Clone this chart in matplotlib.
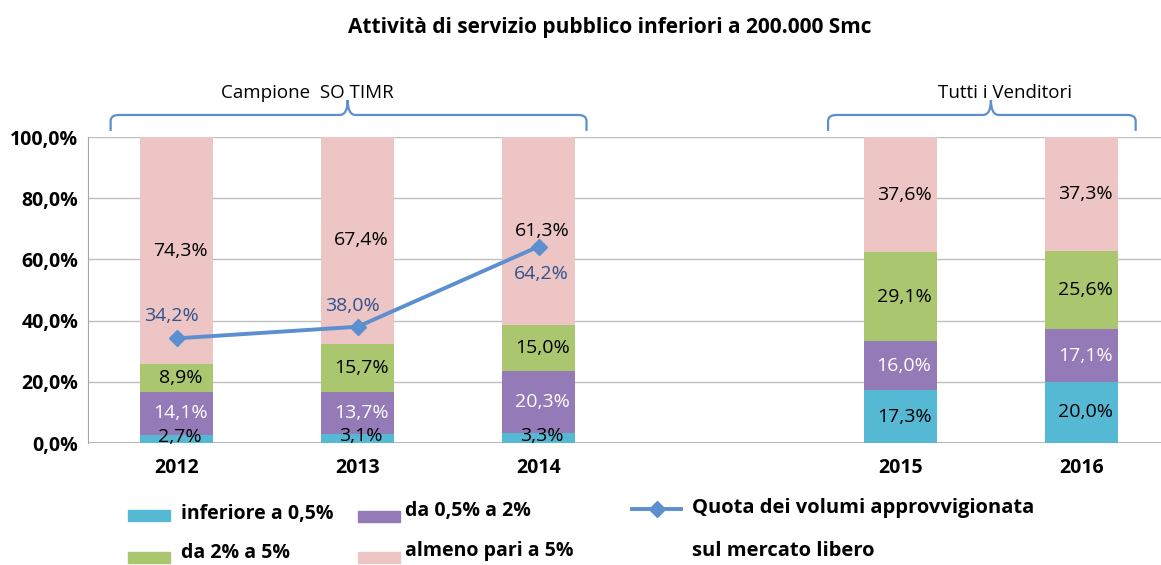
import matplotlib.pyplot as plt
import numpy as np
from matplotlib.path import Path
from matplotlib.patches import PathPatch, Rectangle
from matplotlib.lines import Line2D

plt.rcParams['font.family'] = ['Open Sans', 'DejaVu Sans']

years = ["2012", "2013", "2014", "2015", "2016"]
xpos = [0, 1, 2, 4, 5]
series_names = ["inferiore a 0,5%", "da 0,5% a 2%", "da 2% a 5%", "almeno pari a 5%"]
inf_05 = [2.7, 3.1, 3.3, 17.3, 20.0]
da05_2 = [14.1, 13.7, 20.3, 16.0, 17.1]
da2_5 = [8.9, 15.7, 15.0, 29.1, 25.6]
almeno5 = [74.3, 67.4, 61.3, 37.6, 37.3]
quota_libero = [34.2, 38.0, 64.2]
line_name = "Quota dei volumi approvvigionata\n\nsul mercato libero"
groups = [("Campione  SO TIMR", 0, 2), ("Tutti i Venditori", 4, 5)]

colors = ["#56B9D4", "#947AB6", "#AAC66E", "#ECC5C4"]
text_colors = ["black", "white", "black", "black"]
line_color = "#5B8FCF"
line_lbl_color = "#2F528F"

fig = plt.figure(figsize=(11.61, 5.65), dpi=100)
ax = fig.add_axes([0.0758, 0.2159, 0.9242, 0.5416])

series = [inf_05, da05_2, da2_5, almeno5]
bottom = np.zeros(len(xpos))
for i, vals in enumerate(series):
    vals = np.array(vals)
    ax.bar(xpos, vals, 0.4, bottom=bottom, color=colors[i], zorder=2)
    for j, v in enumerate(vals):
        yc = bottom[j] + v / 2
        if i == 0 and v < 5:
            yc = bottom[j] + v / 2 + 0.6
        ax.text(xpos[j] + 0.02, yc, f"{v:.1f}%".replace(".", ","), ha="center",
                va="center", fontsize=14, color=text_colors[i], zorder=4)
    bottom += vals

ax.plot(xpos[:3], quota_libero, color=line_color, lw=2.8, marker="D",
        markersize=8, zorder=3)
offsets = [(-4, 16), (-4, 15), (2, -20)]
for x, v, off in zip(xpos[:3], quota_libero, offsets):
    ax.annotate(f"{v:.1f}%".replace(".", ","), (x, v), xytext=off,
                textcoords="offset points", ha="center", va="center",
                fontsize=14, color=line_lbl_color, zorder=4)

ax.set_xlim(-0.49, 5.44)
ax.set_ylim(0, 100)
ax.set_yticks(np.arange(0, 101, 20))
ax.set_yticklabels([f"{t:.1f}%".replace(".", ",") for t in np.arange(0, 101, 20)],
                   fontsize=14, fontweight="bold")
ax.set_xticks(xpos)
ax.set_xticklabels(years, fontsize=14, fontweight="bold")
ax.tick_params(axis="y", length=0, pad=7)
ax.tick_params(axis="x", length=0, pad=11)
ax.grid(axis="y", color="#BFBFBF", lw=1, zorder=0)
for s in ["top", "right", "bottom"]:
    ax.spines[s].set_visible(False)
ax.spines["left"].set_color("#A6A6A6")
ax.axhline(0, color="#A6A6A6", lw=1.2, zorder=1)

# curly braces over the groups
def brace(x0, x1, xm, y_tip, y_line, y_peak, rx=0.045, ry=2.0):
    verts = [(x0, y_tip), (x0, y_line - ry), (x0, y_line), (x0 + rx, y_line),
             (xm - rx, y_line), (xm, y_line), (xm, y_peak),
             (xm, y_line), (xm + rx, y_line),
             (x1 - rx, y_line), (x1, y_line), (x1, y_line - ry), (x1, y_tip)]
    codes = [Path.MOVETO, Path.LINETO, Path.CURVE3, Path.CURVE3,
             Path.LINETO, Path.CURVE3, Path.CURVE3,
             Path.CURVE3, Path.CURVE3,
             Path.LINETO, Path.CURVE3, Path.CURVE3, Path.LINETO]
    ax.add_patch(PathPatch(Path(verts, codes), fill=False, edgecolor=line_color,
                           lw=1.6, clip_on=False))

for (name, a, b), (l, r, m, tx) in zip(groups, [(-0.365, 0.265, 0.945, 0.72),
                                                 (-0.40, 0.30, 0.50, 0.58)]):
    brace(a + l, b + r, a + m, 102.0, 107.2, 112.1)
    ax.text(a + tx, 114.3, name, ha="center", va="center", fontsize=13.5, clip_on=False)

fig.text(0.525, 0.952, "Attività di servizio pubblico inferiori a 200.000 Smc",
         ha="center", va="center", fontsize=15, fontweight="bold")

# legend
W, H = 1161, 565
leg_pos = [(128, 515), (358, 516), (128, 557), (358, 557)]
txt_pos = [(181, 514), (405, 511), (181, 553), (405, 551)]
for i, name in enumerate(series_names):
    px, py = leg_pos[i]
    fig.patches.append(Rectangle((px / W, 1 - (py + 6) / H), 42 / W, 11 / H,
                                 color=colors[i], transform=fig.transFigure))
    tx, ty = txt_pos[i]
    fig.text(tx / W, 1 - ty / H, name, ha="left", va="center", fontsize=14,
             fontweight="bold")
fig.lines.append(Line2D([632 / W, 681 / W], [1 - 509 / H, 1 - 509 / H],
                        color=line_color, lw=2.8, transform=fig.transFigure))
fig.lines.append(Line2D([657 / W], [1 - 509 / H], color=line_color, marker="D",
                        markersize=8, transform=fig.transFigure))
fig.text(692 / W, 1 - 530 / H, line_name, ha="left", va="center", fontsize=14.5,
         fontweight="bold", linespacing=1.1)

fig.savefig("out.png", dpi=100)
